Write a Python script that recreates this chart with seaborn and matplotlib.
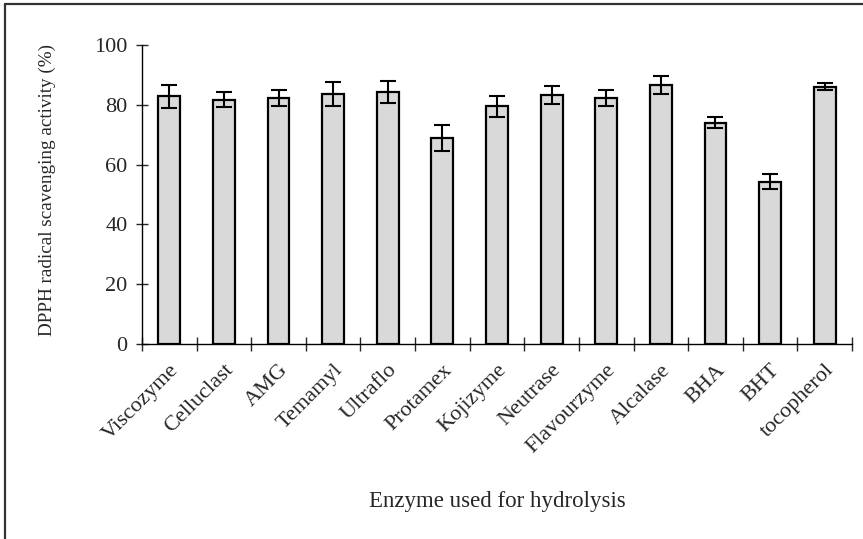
import matplotlib
matplotlib.use("Agg")
import matplotlib.pyplot as plt
import seaborn as sns
import pandas as pd
from matplotlib.lines import Line2D

categories = ["Viscozyme", "Celluclast", "AMG", "Temamyl", "Ultraflo", "Protamex",
              "Kojizyme", "Neutrase", "Flavourzyme", "Alcalase", "BHA", "BHT", "tocopherol"]
values = [82.8, 81.7, 82.3, 83.6, 84.3, 68.8, 79.5, 83.4, 82.3, 86.6, 74.0, 54.2, 86.0]
errors = [3.8, 2.5, 2.8, 4.0, 3.7, 4.3, 3.5, 3.0, 2.7, 3.0, 1.8, 2.5, 1.2]
yticks = [0, 20, 40, 60, 80, 100]

sns.set_style("white")
plt.rcParams['font.family'] = 'serif'
plt.rcParams['font.serif'] = ['Liberation Serif', 'Times New Roman', 'DejaVu Serif']
FS = 16

fig = plt.figure(figsize=(8.63, 5.39), dpi=100)
ax = fig.add_axes([142/863, 1-344/539, 710/863, 299/539])

df = pd.DataFrame({"cat": categories, "val": values})
sns.barplot(data=df, x="cat", y="val", color="#d9d9d9", saturation=1,
            edgecolor="black", linewidth=1.6, width=0.4, errorbar=None, ax=ax)
ax.errorbar(range(len(categories)), values, yerr=errors, fmt="none",
            ecolor="black", elinewidth=1.5, capsize=6, capthick=1.5)

ax.set_xlim(-0.5, len(categories) - 0.5)
ax.set_ylim(0, 100)
ax.set_yticks(yticks)
ax.set_yticklabels([str(t) for t in yticks], fontsize=FS)
ax.tick_params(axis="y", direction="inout", length=9, width=1, pad=6, left=True)

# category boundary ticks on x
ax.set_xticks([i - 0.5 for i in range(len(categories) + 1)], minor=True)
ax.tick_params(axis="x", which="minor", direction="inout", length=10, width=1, bottom=True)
ax.tick_params(axis="x", which="major", length=0, pad=12)
ax.set_xticks(range(len(categories)))
ax.set_xticklabels(categories, rotation=45, ha="right", rotation_mode="anchor",
                   fontsize=FS)

for s in ["top", "right"]:
    ax.spines[s].set_visible(False)
for s in ["left", "bottom"]:
    ax.spines[s].set_color("black")
    ax.spines[s].set_linewidth(1)

ax.set_xlabel("Enzyme used for hydrolysis", fontsize=16.5)
ax.set_ylabel("DPPH radical scavenging activity (%)", fontsize=13.8)
ax.xaxis.set_label_coords(0.5, -0.49)
ax.yaxis.set_label_coords(-0.121, 0.515)

# outer frame (top & left edges)
fig.add_artist(Line2D([4.5/863, 4.5/863], [0, 1-4/539], transform=fig.transFigure,
                      color="#333333", linewidth=1.6))
fig.add_artist(Line2D([4.5/863, 1], [1-4/539, 1-4/539], transform=fig.transFigure,
                      color="#333333", linewidth=1.6))

fig.savefig("out.png", dpi=100)
